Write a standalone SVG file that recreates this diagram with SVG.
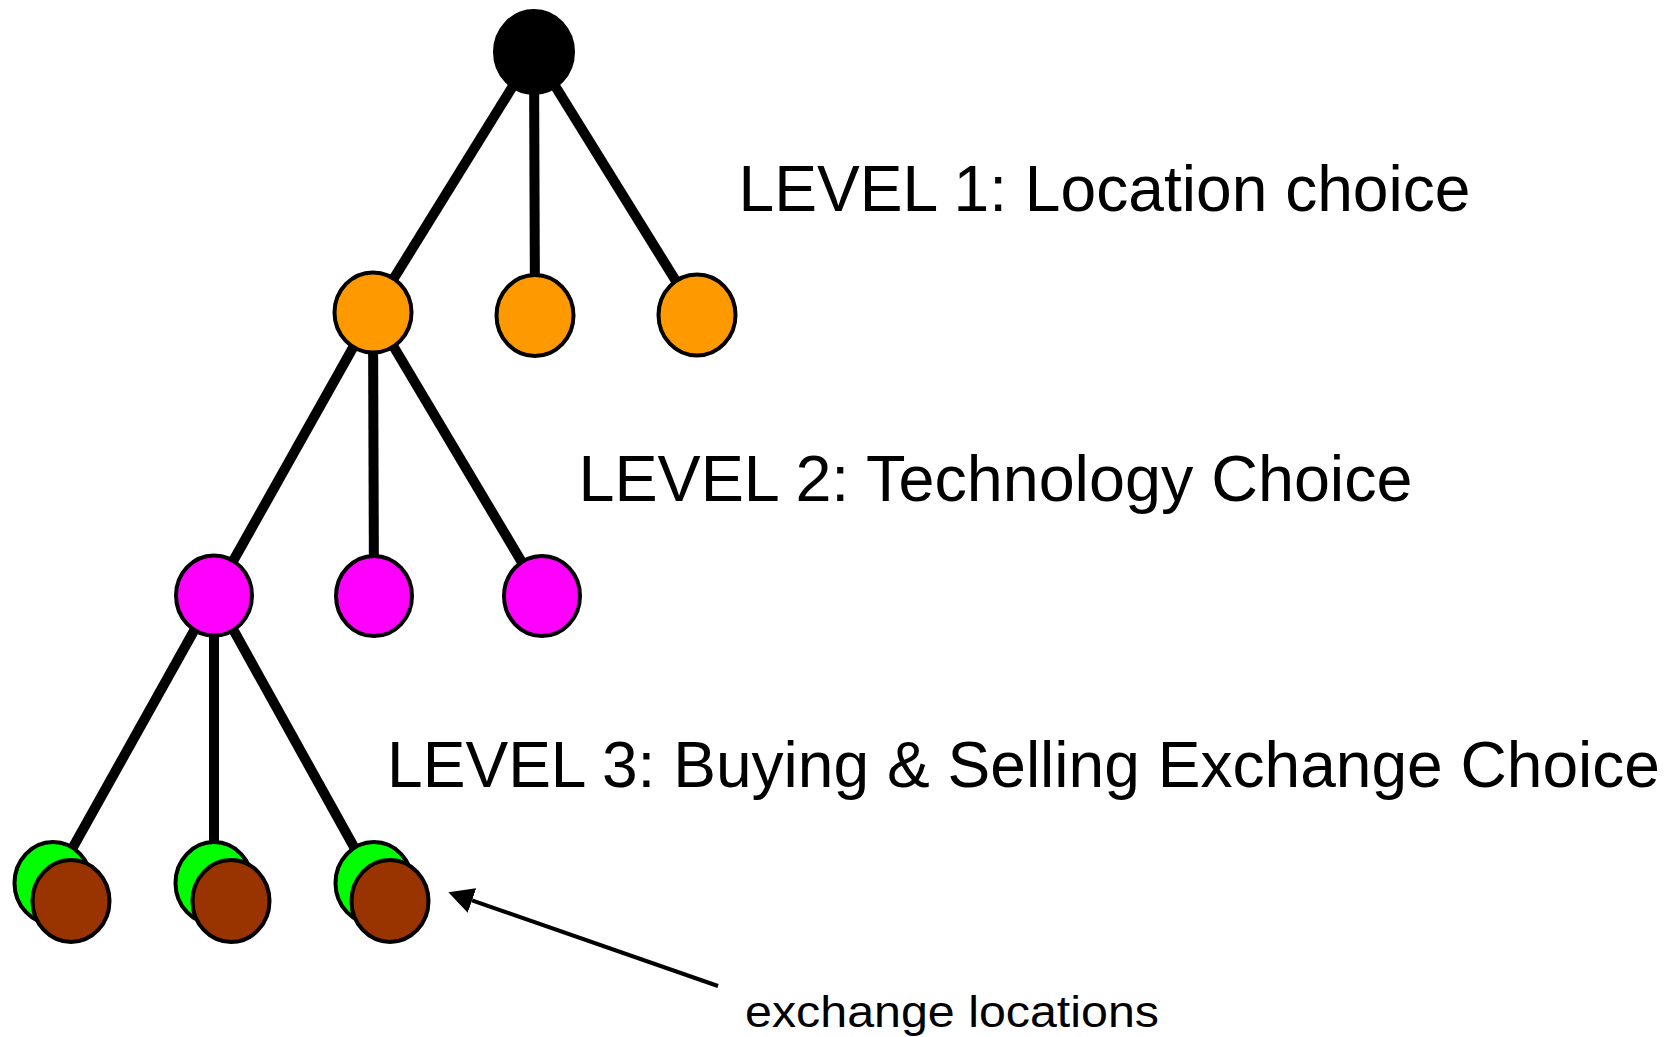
<svg xmlns="http://www.w3.org/2000/svg" width="1676" height="1037" viewBox="0 0 1676 1037">
  <style>
    .edge { stroke: #000; stroke-width: 10; fill: none; }
    .node { stroke: #000; stroke-width: 4; }
    .root { fill: #000; }
    .loc { fill: #FF9900; }
    .tech { fill: #FF00FF; }
    .buy { fill: #00FF00; }
    .sell { fill: #993300; }
    .level { font-family: "Liberation Sans", Arial, sans-serif; font-size: 64px; fill: #000; }
    .note { font-family: "Liberation Sans", Arial, sans-serif; font-size: 45px; fill: #000; }
    .pointer { stroke: #000; stroke-width: 4; fill: none; }
  </style>
  <defs>
    <marker id="arrowhead" viewBox="0 0 25 26" refX="0" refY="13" markerWidth="25" markerHeight="26" markerUnits="userSpaceOnUse" orient="auto">
      <path d="M0,0 L25,13 L0,26 Z" fill="#000"/>
    </marker>
  </defs>

  <rect width="1676" height="1037" fill="#fff"/>

  <!-- tree edges, drawn beneath the nodes -->
  <g id="connectors">
    <line class="edge" x1="534" y1="52" x2="373" y2="312"/>
    <line class="edge" x1="534" y1="52" x2="535" y2="315"/>
    <line class="edge" x1="534" y1="52" x2="697" y2="315"/>
    <line class="edge" x1="373" y1="312" x2="214" y2="595"/>
    <line class="edge" x1="373" y1="312" x2="374" y2="596"/>
    <line class="edge" x1="373" y1="312" x2="542" y2="596"/>
    <line class="edge" x1="214" y1="595" x2="53" y2="883"/>
    <line class="edge" x1="214" y1="595" x2="214" y2="883"/>
    <line class="edge" x1="214" y1="595" x2="374" y2="883"/>
    <line class="pointer" x1="718" y1="986" x2="472" y2="900.4" marker-end="url(#arrowhead)"/>
  </g>

  <!-- root -->
  <g id="root">
    <ellipse class="node root" cx="534" cy="52" rx="39" ry="41"/>
  </g>

  <!-- level 1: locations -->
  <g id="loc1"><ellipse class="node loc" cx="373" cy="312.5" rx="38.5" ry="40"/></g>
  <g id="loc2"><ellipse class="node loc" cx="535" cy="315.5" rx="38.5" ry="40.5"/></g>
  <g id="loc3"><ellipse class="node loc" cx="697" cy="315" rx="38.5" ry="40.5"/></g>

  <!-- level 2: technologies -->
  <g id="tech1"><ellipse class="node tech" cx="214" cy="595.5" rx="38" ry="40"/></g>
  <g id="tech2"><ellipse class="node tech" cx="374" cy="596" rx="38" ry="40"/></g>
  <g id="tech3"><ellipse class="node tech" cx="542" cy="596" rx="38" ry="40"/></g>

  <!-- level 3: buying / selling exchange pairs -->
  <g id="exch1">
    <ellipse class="node buy" cx="53" cy="883" rx="38.5" ry="41"/>
    <ellipse class="node sell" cx="71" cy="901" rx="38.5" ry="41"/>
  </g>
  <g id="exch2">
    <ellipse class="node buy" cx="214" cy="883" rx="38.5" ry="41"/>
    <ellipse class="node sell" cx="231" cy="901" rx="38.5" ry="41"/>
  </g>
  <g id="exch3">
    <ellipse class="node buy" cx="374" cy="883" rx="38.5" ry="41"/>
    <ellipse class="node sell" cx="390" cy="901" rx="38.5" ry="41"/>
  </g>

  <!-- level captions -->
  <g id="labels">
    <text class="level" x="738.5" y="210.5" textLength="732" lengthAdjust="spacingAndGlyphs">LEVEL 1: Location choice</text>
    <text class="level" x="578.5" y="500.5" textLength="834" lengthAdjust="spacingAndGlyphs">LEVEL 2: Technology Choice</text>
    <text class="level" x="387" y="786.7" textLength="1273" lengthAdjust="spacingAndGlyphs">LEVEL 3: Buying &amp; Selling Exchange Choice</text>
    <text class="note" x="745" y="1026.5" textLength="414" lengthAdjust="spacingAndGlyphs">exchange locations</text>
  </g>
</svg>
